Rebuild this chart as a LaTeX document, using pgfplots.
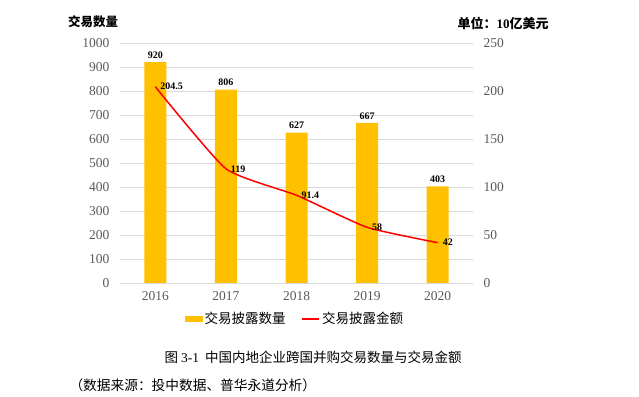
\documentclass[border=0pt]{standalone}
\usepackage{pgfplots}
\pgfplotsset{compat=1.18}
\usepackage{fontspec}
\setmainfont{Liberation Serif}
\newfontfamily\cjk{Noto Sans CJK SC}
\definecolor{barc}{HTML}{FFC000}
\definecolor{linec}{HTML}{FF0000}
\definecolor{gridc}{HTML}{D9D9D9}
\definecolor{tickc}{HTML}{595959}
\newcommand{\fs}[1]{\fontsize{#1}{#1}\selectfont}
\begin{document}
\begin{tikzpicture}[x=1pt,y=1pt]
\path[use as bounding box] (0,0) rectangle (639,396);
\pgfplotsset{
  base/.style={
    scale only axis, width=353pt, height=240pt,
    at={(120pt,113pt)}, anchor=south west,
    xmin=-0.5, xmax=4.5,
    axis line style={draw=none},
    major tick length=0pt,
    tick label style={color=tickc, font=\fs{13.5}},
    /pgf/number format/assume math mode=true,
    /pgf/number format/1000 sep={},
  }
}
\begin{axis}[base,
  ymin=0, ymax=1000, ytick={0,100,...,1000},
  ymajorgrids, grid style={gridc, line width=0.8pt},
  xtick={0,1,2,3,4}, xticklabels={2016,2017,2018,2019,2020},
  xticklabel style={yshift=-5pt},
  yticklabel style={xshift=-7pt},
  ybar, bar width=22pt,
  nodes near coords,
  nodes near coords style={font=\fs{10}\bfseries, color=black, yshift=0pt},
]
\addplot[fill=barc, draw=none] coordinates {(0,920) (1,806) (2,627) (3,667) (4,403)};
\end{axis}
\begin{axis}[base,
  ymin=0, ymax=250, ytick={0,50,...,250},
  axis y line*=right, hide x axis,
  yticklabel style={xshift=7pt},
  legend style={at={(0.496,-0.15)}, anchor=center, draw=none, fill=none,
    legend columns=2, font=\cjk\fs{13.5},
    /tikz/every even column/.append style={column sep=14pt}},
  legend cell align=left,
]
\addlegendimage{legend image code/.code={\fill[barc] (0pt,-2.5pt) rectangle (17pt,2.5pt);}}
\addlegendentry{交易披露数量}
\addlegendimage{legend image code/.code={\draw[linec, line width=1.5pt] (0pt,0pt) -- (17pt,0pt);}}
\addlegendentry{交易披露金额}
\addplot[linec, line width=1.5pt, smooth, tension=0.3, forget plot,
  nodes near coords, point meta=explicit symbolic,
  nodes near coords style={anchor=west, font=\fs{10}\bfseries, color=black, xshift=1pt}]
  coordinates {(0,204.5)[204.5] (1,119)[119] (2,91.4)[91.4] (3,58)[58] (4,42)[42]};
\end{axis}
\node[anchor=center, font=\cjk\bfseries\fs{12.5}] at (93,374) {交易数量};
\node[anchor=center, font=\cjk\bfseries\fs{13}] at (503,373) {单位：\textrm{\bfseries 10}亿美元};
\node[anchor=west, font=\cjk\fs{13.5}] at (161,39) {图 \textrm{3-1}\ \ 中国内地企业跨国并购交易数量与交易金额};
\node[anchor=west, font=\cjk\fs{13.7}] at (66,11) {（数据来源：投中数据、普华永道分析）};
\end{tikzpicture}
\end{document}
